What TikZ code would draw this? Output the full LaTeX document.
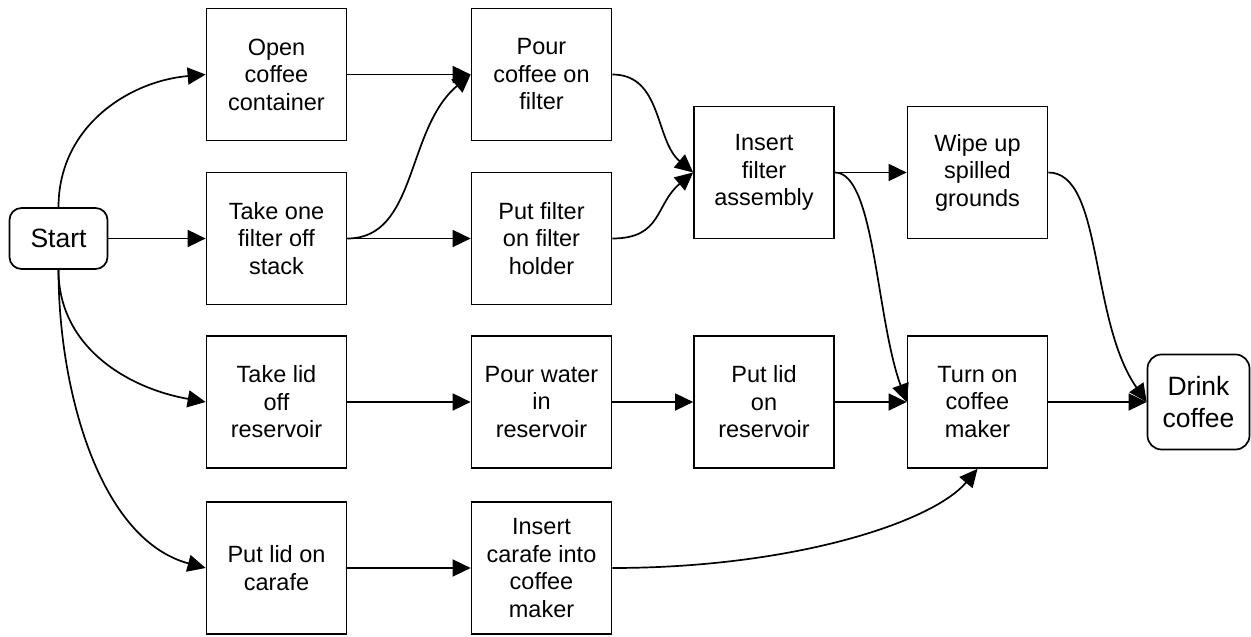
\documentclass[tikz,border=0pt]{standalone}
\usepackage{fontspec}
\setmainfont{Liberation Sans}
\usetikzlibrary{arrows.meta}
\begin{document}
\begin{tikzpicture}[x=1pt,y=1pt,
  box/.style={draw, line width=1.7pt, minimum width=140pt, minimum height=132pt,
    align=center, inner sep=0pt, font=\fontsize{23.5}{27.5}\selectfont},
  term/.style={draw, line width=1.7pt, rounded corners=12pt, align=center,
    inner sep=0pt, font=\fontsize{26.5}{32}\selectfont},
  flow/.style={line width=1.7pt, -{Triangle[length=18pt,width=17pt]}}]
\useasboundingbox (0,0) rectangle (1251,637);

% start and end
\node[term, minimum width=98pt, minimum height=61pt] (start) at (58.5,398.5) {Start};
\node[term, minimum width=102pt, minimum height=95pt, rounded corners=14pt] (drink) at (1198.5,235) {Drink\\coffee};

% first column
\node[box] (open)  at (276.5,562.5) {Open\\coffee\\container};
\node[box] (takef) at (276.5,398.5) {Take one\\filter off\\stack};
\node[box] (takel) at (276.5,235)   {Take lid\\off\\reservoir};
\node[box] (lidc)  at (276.5,69)    {Put lid on\\carafe};

% second column
\node[box] (pourc) at (541.5,562.5) {Pour\\coffee on\\filter};
\node[box] (putf)  at (541.5,398.5) {Put filter\\on filter\\holder};
\node[box] (pourw) at (541.5,235)   {Pour water\\in\\reservoir};
\node[box] (insc)  at (541.5,69)    {Insert\\carafe into\\coffee\\maker};

% third column
\node[box] (insf)  at (764,464.5) {Insert\\filter\\assembly};
\node[box] (lidr)  at (764,235)   {Put lid\\on\\reservoir};

% fourth column
\node[box] (wipe)  at (977.5,464.5) {Wipe up\\spilled\\grounds};
\node[box] (turn)  at (977.5,235)   {Turn on\\coffee\\maker};

% connectors
\draw[flow] (start.north) .. controls +(90:80) and +(185:78) .. (open.west);
\draw[flow] (start.east) -- (takef.west);
\draw[flow] (start.south) .. controls +(-90:78) and +(170:78) .. (takel.west);
\draw[flow] (start.south) .. controls +(-90:120) and +(165:110) .. (lidc.west);

\draw[flow] (open.east) -- (pourc.west);
\draw[flow] (takef.east) .. controls +(0:70) and +(220:85) .. (pourc.west);
\draw[flow] (takef.east) -- (putf.west);
\draw[flow] (takel.east) -- (pourw.west);
\draw[flow] (lidc.east) -- (insc.west);

\draw[flow] (pourc.east) .. controls +(0:50) and +(140:50) .. (insf.west);
\draw[flow] (putf.east) .. controls +(0:50) and +(220:50) .. (insf.west);
\draw[flow] (pourw.east) -- (lidr.west);
\draw[flow] (insc.east) .. controls +(0:180) and +(-130:70) .. (turn.south);

\draw[flow] (insf.east) -- (wipe.west);
\draw[flow] (insf.east) .. controls +(0:40) and +(110:90) .. (turn.west);
\draw[flow] (lidr.east) -- (turn.west);

\draw[flow] (wipe.east) .. controls +(0:55) and +(125:100) .. (drink.west);
\draw[flow] (turn.east) -- (drink.west);
\end{tikzpicture}
\end{document}
